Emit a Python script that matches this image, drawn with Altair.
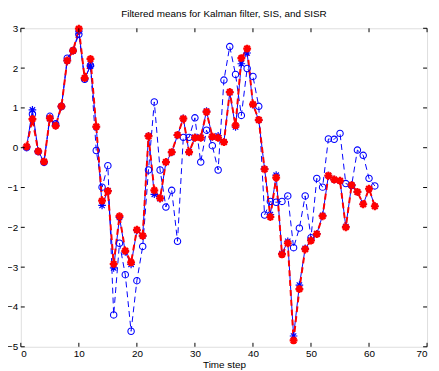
import altair as alt
import pandas as pd

steps = list(range(1, 62))

sisr = [0.03, 0.72, -0.09, -0.35, 0.74, 0.55, 1.04, 2.19, 2.44, 2.99,
        1.75, 2.23, 0.53, -1.33, -1.09, -2.92, -1.72, -2.59, -2.88, -2.06,
        -2.21, 0.29, -1.07, -1.27, -0.36, -0.11, 0.32, 0.73, -0.11, 0.25,
        0.25, 0.90, 0.28, 0.25, 0.14, 1.40, 0.56, 2.25, 2.49, 1.09,
        0.70, -0.54, -1.74, -0.75, -2.68, -2.40, -4.84, -3.55, -2.55, -2.33,
        -2.17, -1.72, -0.70, -0.80, -0.83, -2.00, -0.94, -1.11, -1.42, -1.03,
        -1.47]

sis = [0.00, 0.85, -0.10, -0.37, 0.79, 0.60, 1.04, 2.25, 2.44, 2.85,
       1.72, 2.07, -0.07, -0.99, -0.45, -4.20, -2.40, -3.19, -4.61, -3.34,
       -2.48, -0.56, 1.15, -0.56, -1.49, -1.07, -2.35, 0.26, 0.26, 0.75,
       -0.36, 0.44, 0.05, -0.56, 1.70, 2.54, 1.84, 0.81, 1.99, 1.79,
       1.04, -1.69, -1.35, -1.37, -1.35, -1.21, -2.51, -2.02, -1.21, -2.26,
       -0.77, -0.99, 0.22, 0.21, 0.36, -0.90, -0.95, -0.06, -0.19, -0.77,
       -0.96]

kalman = [0.02, 0.95, -0.09, -0.35, 0.73, 0.56, 1.03, 2.18, 2.43, 2.93,
          1.73, 2.05, 0.52, -1.45, -1.08, -3.02, -1.75, -2.62, -2.93, -2.08,
          -2.22, 0.30, -1.17, -1.28, -0.37, -0.12, 0.31, 0.74, -0.12, 0.26,
          0.26, 0.92, 0.27, 0.30, 0.15, 1.38, 0.52, 2.11, 2.38, 1.08,
          0.69, -0.53, -1.68, -0.69, -2.66, -2.35, -4.73, -3.45, -2.53, -2.32,
          -2.16, -1.70, -0.70, -0.80, -0.83, -1.98, -0.94, -1.11, -1.42, -1.03,
          -1.47]

x_ticks = [0, 10, 20, 30, 40, 50, 60, 70]
y_ticks = [-5, -4, -3, -2, -1, 0, 1, 2, 3]

W, H = 412, 323
FONT = "Liberation Sans"
ASTER = "M-1,0L1,0M0,-1L0,1M-0.7,-0.7L0.7,0.7M-0.7,0.7L0.7,-0.7"

xs = alt.Scale(domain=[0, 70], nice=False, zero=False)
ys = alt.Scale(domain=[-5, 3], nice=False, zero=False)

xaxis = alt.Axis(values=x_ticks, ticks=False, domain=False, grid=False,
                 labelFont=FONT, labelFontSize=10, labelColor="black",
                 labelPadding=2, title="Time step", titleFont=FONT,
                 titleFontSize=10, titleFontWeight="normal", titleColor="black",
                 titlePadding=1)
yaxis = alt.Axis(values=y_ticks, ticks=False, domain=False, grid=False,
                 labelFont=FONT, labelFontSize=10, labelColor="black",
                 labelPadding=3, title=None)

df_k = pd.DataFrame({"t": steps, "v": kalman})
df_s = pd.DataFrame({"t": steps, "v": sis})
df_r = pd.DataFrame({"t": steps, "v": sisr})

def enc(ch):
    return ch.encode(x=alt.X("t:Q", scale=xs, axis=xaxis),
                     y=alt.Y("v:Q", scale=ys, axis=yaxis))

k_line = enc(alt.Chart(df_k).mark_line(color="#0000ff", strokeWidth=1))
k_pts = enc(alt.Chart(df_k).mark_point(shape=ASTER, size=60, color="#0000ff",
                                       strokeWidth=1.2, filled=False, opacity=1))
s_line = enc(alt.Chart(df_s).mark_line(color="#0000ff", strokeWidth=1,
                                       strokeDash=[6, 4]))
s_pts = enc(alt.Chart(df_s).mark_point(shape="circle", size=42, color="#0000ff",
                                       strokeWidth=1.1, filled=False, opacity=1))
r_line = enc(alt.Chart(df_r).mark_line(color="#ff0000", strokeWidth=2,
                                       strokeDash=[6, 4]))
r_pts = enc(alt.Chart(df_r).mark_point(shape=ASTER, size=64, color="#ff0000",
                                       strokeWidth=2.2, filled=False, opacity=1))

dx = pd.DataFrame({"xt": x_ticks})
dy = pd.DataFrame({"yt": y_ticks})
tick_b = alt.Chart(dx).mark_rule(color="black", strokeWidth=1).encode(
    x=alt.X("xt:Q", scale=xs), y=alt.value(H), y2=alt.value(H - 4))
tick_t = alt.Chart(dx).mark_rule(color="black", strokeWidth=1).encode(
    x=alt.X("xt:Q", scale=xs), y=alt.value(0), y2=alt.value(4))
tick_l = alt.Chart(dy).mark_rule(color="black", strokeWidth=1).encode(
    y=alt.Y("yt:Q", scale=ys), x=alt.value(0), x2=alt.value(4))
tick_r = alt.Chart(dy).mark_rule(color="black", strokeWidth=1).encode(
    y=alt.Y("yt:Q", scale=ys), x=alt.value(W), x2=alt.value(W - 4))

chart = alt.layer(
    k_line, s_line, r_line, k_pts, s_pts, r_pts,
    tick_b, tick_t, tick_l, tick_r
).properties(
    width=W, height=H,
    title=alt.TitleParams("Filtered means for Kalman filter, SIS, and SISR",
                          font=FONT, fontSize=10, fontWeight="normal",
                          color="black", anchor="middle", offset=1),
    autosize=alt.AutoSizeParams(type="none"),
    padding={"left": 13, "top": 18, "right": 4, "bottom": 22},
).configure_view(stroke="black", strokeWidth=1.2).configure(background="white")

chart.save("out.html", embed_options={"renderer": "svg", "actions": False})
